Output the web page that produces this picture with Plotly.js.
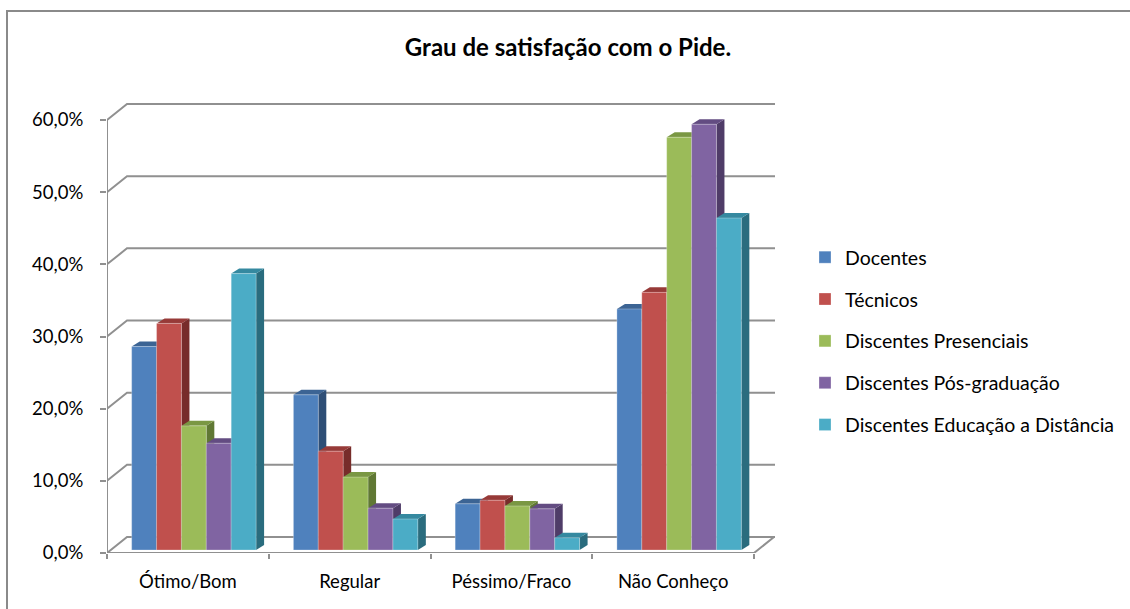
<!DOCTYPE html>
<html>
<head>
<meta charset="utf-8">
<script src="https://cdn.plot.ly/plotly-3.0.1.min.js"></script>
<style>html,body{margin:0;padding:0;background:#fff;}#chart{width:1130px;height:609px;}</style>
</head>
<body>
<div id="chart"></div>
<script>
// ---- data ----
const categories = ['Ótimo/Bom', 'Regular', 'Péssimo/Fraco', 'Não Conheço'];
const seriesNames = ['Docentes', 'Técnicos', 'Discentes Presenciais', 'Discentes Pós-graduação', 'Discentes Educação a Distância'];
const docentes = [28.2, 21.5, 6.4, 33.4];
const tecnicos = [31.4, 13.7, 6.9, 35.7];
const presenciais = [17.2, 10.1, 6.1, 57.2];
const posGraduacao = [14.8, 5.8, 5.7, 59.0];
const educacaoDistancia = [38.3, 4.3, 1.7, 46.0];
const yTicks = [0, 10, 20, 30, 40, 50, 60];
const yTickLabels = ['0,0%', '10,0%', '20,0%', '30,0%', '40,0%', '50,0%', '60,0%'];
const seriesValues = [docentes, tecnicos, presenciais, posGraduacao, educacaoDistancia];

// ---- style ----
const frontColors = ['#4F81BD', '#C0504D', '#9BBB59', '#8064A2', '#4BACC6'];
const topColors   = ['#3C6494', '#973A38', '#7A9743', '#634C82', '#3589A0'];
const sideColors  = ['#2E4E76', '#772C2A', '#607834', '#4F3C68', '#2A6C7E'];
const gridColor = '#909090';
const FONT = 'Lato, "Open Sans", sans-serif';

// ---- geometry ----
const W = 1130, H = 609;
const M = {l: 107, r: 355, t: 95, b: 56, autoexpand: false};
const plotW = W - M.l - M.r;           // px, x axis uses 1 unit = 1 px
const plotH = H - M.t - M.b;
const pxPerPct = 433 / 60;
const yMax = plotH / pxPerPct;
const frontW = 647;
const catW = frontW / categories.length;
const barW = catW / 6.5;               // gap width 150 %
const wallDX = 20, wallDY = 16 / pxPerPct;
const barShiftX = 6, barBase = 3 / pxPerPct;
const barDX = 8, barDY = 5 / pxPerPct;

const shapes = [];
// outer frame
shapes.push({type: 'rect', xref: 'paper', yref: 'paper',
  x0: (7 - M.l) / plotW, x1: (W + 10 - M.l) / plotW,
  y0: (H - M.b - (H + 10)) / plotH, y1: (H - M.b - 11) / plotH,
  line: {color: '#8a8a8a', width: 2}, fillcolor: 'rgba(0,0,0,0)', layer: 'below'});
// back wall gridlines with their left diagonals
yTicks.forEach(v => {
  shapes.push({type: 'path', xref: 'x', yref: 'y', layer: 'below',
    path: `M 0,${v} L ${wallDX},${v + wallDY} L ${plotW},${v + wallDY}`,
    line: {color: gridColor, width: 2}});
});
// front vertical axis
shapes.push({type: 'line', xref: 'x', yref: 'y', layer: 'below', x0: 0, x1: 0, y0: 0, y1: yTicks[yTicks.length - 1],
  line: {color: gridColor, width: 2}});
// floor front edge and right diagonal
shapes.push({type: 'path', xref: 'x', yref: 'y', layer: 'below',
  path: `M 0,0 L ${frontW},0 L ${frontW + wallDX},${wallDY}`,
  line: {color: gridColor, width: 2}});

// bars
const traces = [];
seriesValues.forEach((vals, s) => {
  const xs = [];
  vals.forEach((v, c) => {
    const xl = c * catW + 0.75 * barW + s * barW + barShiftX;
    const xr = xl + barW;
    const top = barBase + v;
    xs.push(xl + barW / 2);
    shapes.push({type: 'path', xref: 'x', yref: 'y', layer: 'below',
      path: `M ${xr},${barBase} L ${xr + barDX},${barBase + barDY} L ${xr + barDX},${top + barDY} L ${xr},${top} Z`,
      fillcolor: sideColors[s], line: {width: 0}});
    shapes.push({type: 'path', xref: 'x', yref: 'y', layer: 'below',
      path: `M ${xl},${top} L ${xr},${top} L ${xr + barDX},${top + barDY} L ${xl + barDX},${top + barDY} Z`,
      fillcolor: topColors[s], line: {width: 0}});
  });
  traces.push({
    type: 'bar', name: seriesNames[s], x: xs, y: vals, base: barBase, width: barW,
    legendgroup: 'g' + s,
    marker: {color: frontColors[s], line: {color: 'rgba(255,255,255,0.35)', width: 0.8}},
    hoverinfo: 'skip'
  });
});

const layout = {
  width: W, height: H,
  margin: M,
  paper_bgcolor: '#fff', plot_bgcolor: 'rgba(0,0,0,0)',
  font: {family: FONT, size: 18, color: '#000'},
  title: {text: 'Grau de satisfação com o Pide.', font: {family: FONT, size: 24, weight: 'bold', color: '#000'},
    xref: 'container', x: 568 / W, xanchor: 'center', yref: 'container', y: 1 - 48 / H, yanchor: 'middle'},
  barmode: 'overlay',
  showlegend: true,
  legend: {x: (805 - M.l) / plotW, xanchor: 'left', y: (H - M.b - 238) / plotH, yanchor: 'top',
    font: {family: FONT, size: 19.5, color: '#000'}, tracegroupgap: 13.5, bgcolor: 'rgba(0,0,0,0)'},
  xaxis: {range: [0, plotW], showgrid: false, zeroline: false, showline: false,
    tickmode: 'array', tickvals: categories.map((_, c) => c * catW + catW / 2), ticktext: categories,
    ticks: '', ticklabelstandoff: 15, tickfont: {family: FONT, size: 18.5, color: '#000'},
    minor: {tickmode: 'linear', tick0: 0, dtick: catW, ticks: 'outside', ticklen: 5, tickwidth: 2, tickcolor: gridColor, showgrid: false},
    fixedrange: true},
  yaxis: {range: [0, yMax], showgrid: false, zeroline: false, showline: false,
    tickmode: 'array', tickvals: yTicks, ticktext: yTickLabels,
    ticks: 'outside', ticklen: 6, tickwidth: 2, tickcolor: gridColor, ticklabelstandoff: 13,
    tickfont: {family: FONT, size: 18.5, color: '#000'}, fixedrange: true},
  shapes: shapes
};

Plotly.newPlot('chart', traces, layout, {displayModeBar: false, staticPlot: true});
</script>
</body>
</html>
